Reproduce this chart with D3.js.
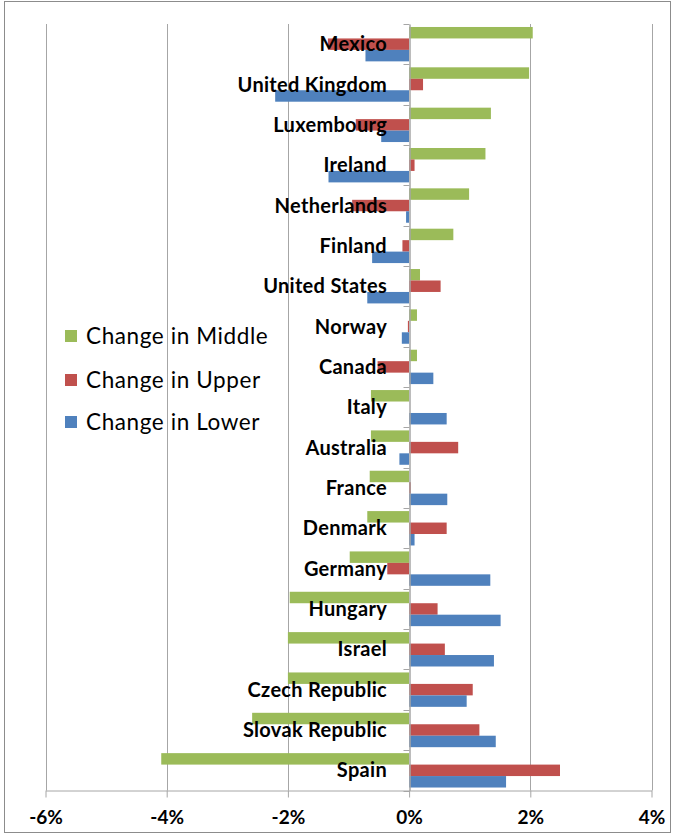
<!DOCTYPE html>
<html>
<head>
<meta charset="utf-8">
<script src="https://cdn.jsdelivr.net/npm/d3@7/dist/d3.min.js"></script>
<style>
  html, body { margin: 0; padding: 0; background: #fff; }
  svg { display: block; }
</style>
</head>
<body>
<svg id="chart" width="675" height="837"></svg>
<script>
const categories = ["Mexico","United Kingdom","Luxembourg","Ireland","Netherlands","Finland","United States","Norway","Canada","Italy","Australia","France","Denmark","Germany","Hungary","Israel","Czech Republic","Slovak Republic","Spain"];
const changeMiddle = [2.04, 1.98, 1.35, 1.26, 0.99, 0.73, 0.18, 0.13, 0.13, -0.63, -0.63, -0.65, -0.69, -0.98, -1.97, -2.0, -2.0, -2.59, -4.09];
const changeUpper  = [-1.34, 0.23, -0.88, 0.09, -0.94, -0.11, 0.52, -0.02, -0.52, 0.0, 0.81, 0.03, 0.62, -0.36, 0.47, 0.59, 1.05, 1.16, 2.49];
const changeLower  = [-0.72, -2.21, -0.46, -1.33, -0.05, -0.61, -0.69, -0.12, 0.40, 0.62, -0.16, 0.63, 0.09, 1.34, 1.51, 1.40, 0.95, 1.43, 1.60];
const seriesNames = ["Change in Middle", "Change in Upper", "Change in Lower"];
const seriesColors = ["#9BBB59", "#C0504D", "#4F81BD"];
const xTicks = [-6, -4, -2, 0, 2, 4];

const seriesValues = [changeMiddle, changeUpper, changeLower];
const svg = d3.select("#chart");
const W = 675, H = 837;
const FONT = "Lato, 'Open Sans', sans-serif";

// outer frame
svg.append("rect").attr("x", 4.5).attr("y", 1.5).attr("width", W - 9).attr("height", H - 6)
  .attr("fill", "#fff").attr("stroke", "#8c8c8c").attr("stroke-width", 1);

const plot = { left: 45.5, right: 651.5, top: 24, bottom: 790.5 };

const x = d3.scaleLinear().domain([-6, 4]).range([plot.left, plot.right]);
const y = d3.scaleBand().domain(categories).range([plot.top, plot.bottom]).paddingInner(0).paddingOuter(0);
const inner = d3.scaleBand().domain(seriesNames).range([0, y.bandwidth()]).paddingInner(0).paddingOuter(0.26);

const gridColor = "#a6a6a6";

// vertical gridlines
svg.append("g").selectAll("line").data(xTicks.filter(t => t !== 0)).join("line")
  .attr("x1", d => Math.round(x(d)) + 0.5).attr("x2", d => Math.round(x(d)) + 0.5)
  .attr("y1", plot.top).attr("y2", plot.bottom)
  .attr("stroke", gridColor).attr("stroke-width", 1);

// bars
const rows = [];
categories.forEach((c, i) => {
  seriesNames.forEach((s, j) => rows.push({ cat: c, series: s, value: seriesValues[j][i], color: seriesColors[j] }));
});
svg.append("g").selectAll("rect").data(rows).join("rect")
  .attr("x", d => x(Math.min(0, d.value)))
  .attr("width", d => Math.abs(x(d.value) - x(0)))
  .attr("y", d => y(d.cat) + inner(d.series))
  .attr("height", inner.bandwidth())
  .attr("fill", d => d.color);

// bottom axis
const xAxis = d3.axisBottom(x).tickValues(xTicks).tickFormat(d => d + "%").tickSizeInner(7).tickSizeOuter(0).tickPadding(13);
const gx = svg.append("g").attr("transform", `translate(0,${plot.bottom})`).call(xAxis);
gx.select(".domain").attr("stroke", gridColor);
gx.selectAll(".tick line").attr("stroke", gridColor);
gx.selectAll(".tick text").attr("fill", "#000").attr("font-family", FONT)
  .attr("font-weight", "bold").attr("font-size", 19);

// vertical category axis at zero
const yAxis = d3.axisLeft(y).tickValues([]).tickSizeOuter(0);
const gy = svg.append("g").attr("transform", `translate(${Math.round(x(0)) + 0.5},0)`).call(yAxis);
gy.select(".domain").attr("stroke", gridColor).attr("stroke-width", 1.5);
const boundaries = categories.map(c => y(c)).concat([plot.bottom]);
gy.selectAll(".bt").data(boundaries).join("line").attr("class", "bt")
  .attr("x1", -6).attr("x2", 0).attr("y1", d => Math.round(d) + 0.5).attr("y2", d => Math.round(d) + 0.5)
  .attr("stroke", gridColor);

// category labels
svg.append("g").selectAll("text").data(categories).join("text")
  .attr("x", 387).attr("y", d => y(d) + y.bandwidth() / 2)
  .attr("dy", "0.35em").attr("text-anchor", "end")
  .attr("font-family", FONT).attr("font-weight", "bold").attr("font-size", 20)
  .attr("letter-spacing", 0.3)
  .attr("fill", "#000").text(d => d);

// legend
const legend = svg.append("g");
const legendY = [336, 380, 422];
seriesNames.forEach((s, j) => {
  legend.append("rect").attr("x", 65).attr("y", legendY[j] - 6).attr("width", 12).attr("height", 12).attr("fill", seriesColors[j]);
  legend.append("text").attr("x", 86).attr("y", legendY[j]).attr("dy", "0.35em")
    .attr("font-family", FONT).attr("font-size", 22.5).attr("letter-spacing", 0.6)
    .attr("fill", "#000").text(s);
});
</script>
</body>
</html>
